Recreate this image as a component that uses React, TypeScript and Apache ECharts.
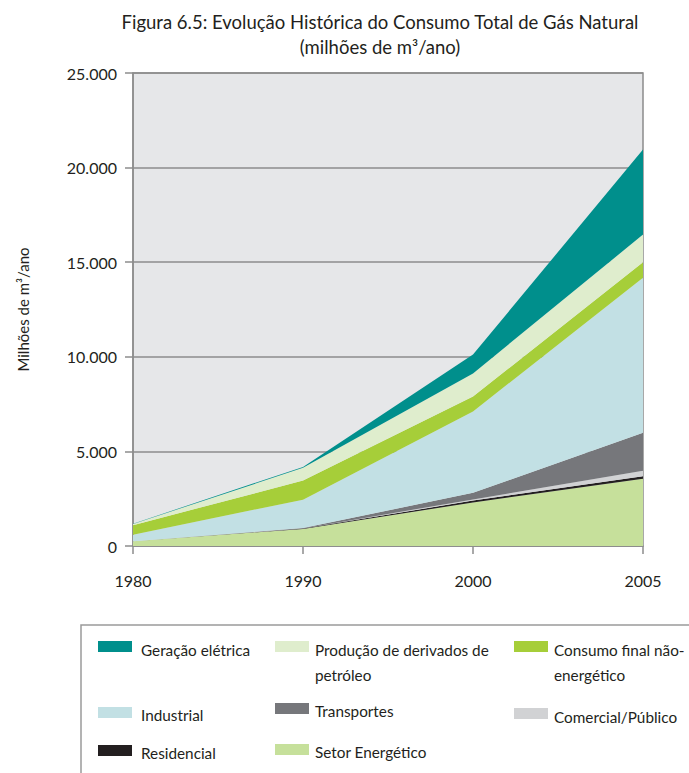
import React, { useEffect, useRef } from "react";
import * as echarts from "echarts";

const years = ["1980", "1990", "2000", "2005"];
const setorEnergetico = [250, 900, 2300, 3550];
const residencial = [0, 20, 100, 130];
const comercialPublico = [0, 10, 60, 300];
const transportes = [0, 20, 350, 2000];
const industrial = [350, 1500, 4300, 8200];
const consumoFinal = [500, 1010, 790, 820];
const producaoDerivados = [60, 670, 1220, 1460];
const geracaoEletrica = [20, 50, 1000, 4500];

const seriesNames = [
  "Setor Energético",
  "Residencial",
  "Comercial/Público",
  "Transportes",
  "Industrial",
  "Consumo final não-energético",
  "Produção de derivados de petróleo",
  "Geração elétrica",
];
const seriesData = [
  setorEnergetico,
  residencial,
  comercialPublico,
  transportes,
  industrial,
  consumoFinal,
  producaoDerivados,
  geracaoEletrica,
];
const colors = [
  "#C6E09B",
  "#231F20",
  "#D1D2D4",
  "#76777B",
  "#C2E0E4",
  "#A6CE39",
  "#DFEDCD",
  "#008F8C",
];

// legend layout: [series index, label lines, swatch x, swatch y, text x, text y]
const legendItems: [number, string, number, number, number, number][] = [
  [7, "Geração elétrica", 98, 641, 141, 649],
  [6, "Produção de derivados de\npetróleo", 275, 641, 315, 649],
  [5, "Consumo final não-\nenergético", 514, 641, 554, 649],
  [4, "Industrial", 98, 707, 141, 714],
  [3, "Transportes", 275, 703, 315, 710],
  [2, "Comercial/Público", 514, 708, 554, 716],
  [1, "Residencial", 98, 745, 141, 752],
  [0, "Setor Energético", 275, 744, 315, 751],
];

const FONT = "Lato, 'Open Sans', sans-serif";
const TEXT = "#231F20";

export default function App() {
  const ref = useRef<HTMLDivElement>(null);
  useEffect(() => {
    if (!ref.current) return;
    const chart = echarts.init(ref.current, null, { renderer: "svg" });
    const fmt = (v: number) =>
      String(v).replace(/\B(?=(\d{3})+(?!\d))/g, ".");
    const graphic: any[] = [
      {
        type: "rect",
        shape: { x: 81, y: 625, width: 700, height: 200 },
        style: { fill: "none", stroke: "#9A9A9A", lineWidth: 1.5 },
        silent: true,
      },
    ];
    legendItems.forEach(([idx, label, sx, sy, tx, ty]) => {
      graphic.push({
        type: "rect",
        shape: { x: sx, y: sy, width: 34, height: 11 },
        style: { fill: colors[idx] },
        silent: true,
      });
      graphic.push({
        type: "text",
        x: tx,
        y: ty - 12,
        style: {
          text: label,
          font: `15.3px ${FONT}`,
          fill: TEXT,
          lineHeight: 25,
          verticalAlign: "top",
        },
        silent: true,
      });
    });
    chart.setOption({
      animation: false,
      backgroundColor: "#ffffff",
      title: {
        text: "Figura 6.5: Evolução Histórica do Consumo Total de Gás Natural\n(milhões de m³/ano)",
        left: 375,
        top: 4,
        textAlign: "center",
        textStyle: {
          fontFamily: FONT,
          fontSize: 18.5,
          fontWeight: "normal",
          color: TEXT,
          lineHeight: 25,
        },
      },
      grid: {
        left: 133,
        right: 46,
        top: 73,
        bottom: 227,
        show: true,
        backgroundColor: "#E6E7E9",
        borderColor: "#8C8C8C",
        borderWidth: 1.5,
      },
      xAxis: {
        type: "category",
        data: years,
        boundaryGap: false,
        axisLine: { lineStyle: { color: "#8C8C8C", width: 1.5 } },
        axisTick: { show: true, length: 8, lineStyle: { color: "#8C8C8C", width: 1.5 } },
        axisLabel: { margin: 26, color: TEXT, fontFamily: FONT, fontSize: 16 },
        splitLine: { show: false },
      },
      yAxis: {
        type: "value",
        min: 0,
        max: 25000,
        interval: 5000,
        name: "Milhões de m³/ano",
        nameLocation: "middle",
        nameGap: 103,
        nameTextStyle: { color: TEXT, fontFamily: FONT, fontSize: 15 },
        axisLine: { show: true, lineStyle: { color: "#8C8C8C", width: 1.5 } },
        axisTick: { show: true, length: 8, lineStyle: { color: "#8C8C8C", width: 1.5 } },
        axisLabel: {
          margin: 16,
          color: TEXT,
          fontFamily: FONT,
          fontSize: 16,
          formatter: (v: number) => fmt(v),
        },
        splitLine: { show: true, lineStyle: { color: "#8C8C8C", width: 1.5 } },
      },
      series: seriesNames.map((name, i) => ({
        name,
        type: "line",
        stack: "total",
        data: seriesData[i],
        symbol: "none",
        lineStyle: { width: 0 },
        itemStyle: { color: colors[i] },
        areaStyle: { color: colors[i], opacity: 1 },
        z: 2,
      })),
      graphic,
    });
    return () => chart.dispose();
  }, []);
  return (
    <div
      ref={ref}
      style={{ position: "fixed", left: 0, top: 0, width: 689, height: 773 }}
    />
  );
}
